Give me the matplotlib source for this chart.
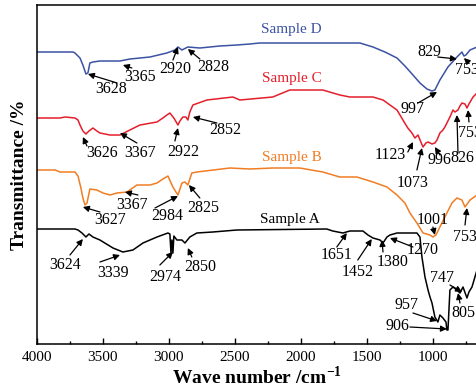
import matplotlib
matplotlib.use("Agg")
from matplotlib import pyplot as plt
from matplotlib.ticker import MultipleLocator

plt.rcParams['font.family'] = ['Liberation Serif', 'DejaVu Serif']
plt.rcParams['mathtext.fontset'] = 'custom'
plt.rcParams['mathtext.rm'] = 'Liberation Serif'
plt.rcParams['mathtext.bf'] = 'Liberation Serif:bold'

# spectra (wave number, transmittance in arbitrary offset units)
wave_d = [4000, 3725, 3710, 3672, 3650, 3627, 3612, 3597, 3574, 3521, 3369, 3294, 3142, 3014,
          2953, 2930, 2900, 2855, 2764, 2613, 2484, 2386, 2310, 2007, 1552, 1453, 1362, 1271,
          1211, 1150, 1097, 1044, 1006, 984, 946, 885, 817, 779, 764, 749, 718, 665]
trans_d = [292, 292, 291, 286, 279, 270, 271, 281, 282, 283, 283, 285, 287, 291,
           294, 297, 294, 297, 296, 298, 299, 300, 301, 301, 301, 297, 292, 286,
           278, 269, 261, 255, 253, 254, 264, 277, 287, 292, 288, 289, 294, 297]

wave_c = [4000, 3824, 3786, 3710, 3687, 3672, 3650, 3627, 3604, 3574, 3544, 3521, 3445, 3369,
          3294, 3218, 3089, 3044, 3014, 2991, 2961, 2930, 2915, 2893, 2870, 2855, 2840, 2817,
          2711, 2514, 2461, 2212, 2083, 1833, 1704, 1628, 1453, 1377, 1271, 1226, 1189, 1158,
          1135, 1112, 1090, 1074, 1052, 1036, 1006, 984, 968, 946, 923, 908, 893, 870, 847,
          832, 809, 794, 779, 756, 741, 726, 695, 665]
trans_c = [226, 226, 227, 226, 224, 219, 213, 210, 213, 216, 213, 211, 209, 209,
           214, 219, 222, 226, 229, 231, 226, 219, 223, 227, 227, 224, 232, 239,
           244, 247, 244, 247, 254, 254, 249, 247, 247, 244, 234, 224, 216, 211,
           206, 209, 202, 197, 201, 202, 200, 201, 204, 211, 214, 217, 221, 227, 234,
           232, 234, 238, 241, 240, 236, 240, 247, 251]

wave_b = [4000, 3861, 3824, 3710, 3687, 3665, 3650, 3634, 3619, 3597, 3544, 3498, 3445, 3392,
          3316, 3241, 3142, 3089, 3044, 3006, 2968, 2945, 2930, 2900, 2877, 2855, 2825, 2787,
          2537, 2386, 2212, 2007, 1833, 1704, 1575, 1453, 1347, 1271, 1211, 1173, 1120, 1074,
          1021, 999, 976, 946, 893, 855, 817, 779, 756, 718, 665]
trans_b = [174, 174, 172, 172, 168, 156, 146, 139, 141, 155, 154, 151, 149, 151,
           152, 159, 159, 161, 165, 168, 157, 152, 149, 161, 162, 159, 171, 172,
           176, 175, 176, 176, 172, 167, 167, 162, 157, 149, 141, 131, 121, 111,
           109, 107, 109, 117, 131, 141, 146, 144, 137, 144, 149]

wave_a = [4000, 3710, 3687, 3657, 3627, 3604, 3574, 3521, 3422, 3347, 3271, 3195, 3089, 3006,
          2991, 2983, 2976, 2968, 2961, 2938, 2900, 2877, 2840, 2787, 2666, 2484, 1803, 1757,
          1681, 1628, 1529, 1491, 1453, 1400, 1377, 1347, 1324, 1271, 1120, 1097, 1082, 1059,
          1036, 1021, 1006, 984, 961, 946, 923, 900, 893, 885, 870, 847, 817, 794, 771, 741,
          726, 703, 665]
trans_a = [115, 115, 114, 111, 107, 110, 107, 104, 96, 92, 94, 101, 107, 111,
           110, 91, 104, 91, 108, 104, 104, 101, 107, 111, 112, 114, 115, 113,
           111, 113, 113, 109, 106, 104, 101, 107, 109, 111, 111, 107, 87, 67,
           54, 47, 41, 27, 22, 29, 26, 22, 14, 14, 54, 57, 54, 51, 57, 46,
           52, 57, 74]

sample_names = ["Sample D", "Sample C", "Sample B", "Sample A"]
colors = ["#3c52a3", "#e41f2b", "#f07d24", "#000000"]

# peak labels: text, text position, arrow tail, arrow tip (data coords)
peaks = [
    ("3628", (3437, 255), (3391, 261), (3612, 270)),
    ("3365", (3218, 267), (3279, 276), (3347, 279)),
    ("2920", (2953, 275), (2968, 284), (2930, 297)),
    ("2828", (2666, 277), (2764, 285), (2855, 295)),
    ("829", (1023, 292), (962, 287), (817, 285)),
    ("753", (745, 274), (726, 281), (764, 286)),
    ("997", (1150, 235), (1112, 241), (968, 252)),
    ("3626", (3505, 191), (3619, 198), (3650, 207)),
    ("3367", (3218, 191), (3241, 201), (3369, 211)),
    ("2922", (2893, 192), (2953, 203), (2930, 216)),
    ("2852", (2575, 214), (2635, 221), (2817, 227)),
    ("1123", (1325, 189), (1189, 192), (1150, 202)),
    ("1073", (1150, 161), (1120, 174), (1082, 196)),
    ("996", (946, 184), (946, 189), (984, 197)),
    ("826", (779, 186), (809, 191), (817, 229)),
    ("753", (718, 211), (726, 222), (733, 234)),
    ("3627", (3445, 124), (3521, 132), (3650, 137)),
    ("3367", (3278, 139), (3233, 149), (3332, 152)),
    ("2984", (3014, 128), (3104, 136), (2930, 148)),
    ("2825", (2741, 136), (2764, 146), (2847, 159)),
    ("1001", (999, 124), (999, 117), (984, 109)),
    ("753", (756, 107), (756, 119), (741, 136)),
    ("3624", (3785, 79), (3748, 89), (3650, 105)),
    ("3339", (3422, 71), (3521, 82), (3369, 89)),
    ("2974", (3029, 67), (3067, 79), (2968, 92)),
    ("2850", (2764, 77), (2825, 87), (2855, 96)),
    ("1651", (1727, 89), (1727, 97), (1651, 111)),
    ("1452", (1568, 72), (1568, 84), (1462, 105)),
    ("1380", (1302, 82), (1377, 92), (1385, 104)),
    ("1270", (1074, 94), (1150, 97), (1324, 106)),
    ("957", (1196, 39), (1150, 31), (968, 23)),
    ("906", (1271, 18), (1173, 17), (893, 15)),
    ("747", (931, 66), (870, 59), (779, 52)),
    ("805", (771, 31), (794, 41), (809, 51)),
]
name_pos = [(2068, 315), (2068, 266), (2068, 187), (2083, 125)]

fig = plt.figure(figsize=(4.77, 3.91), dpi=100)
ax = fig.add_axes([0.0769, 0.1202, 0.9231, 0.867])

for w, t, c in zip([wave_d, wave_c, wave_b, wave_a], [trans_d, trans_c, trans_b, trans_a], colors):
    ax.plot(w, t, color=c, lw=1.1)

for name, c, pos in zip(sample_names, colors, name_pos):
    ax.text(pos[0], pos[1], name, color=c, fontsize=11, ha='center', va='center')

for lab, tpos, tail, tip in peaks:
    ax.text(tpos[0], tpos[1], lab, fontsize=11.5, ha='center', va='center')
    ax.annotate("", xy=tip, xytext=tail,
                arrowprops=dict(arrowstyle='-|>', color='black', lw=0.9,
                                mutation_scale=9, shrinkA=0, shrinkB=0))

ax.set_xlim(4000, 665)
ax.set_ylim(0, 339)
ax.xaxis.set_major_locator(MultipleLocator(500))
ax.xaxis.set_minor_locator(MultipleLocator(250))
ax.tick_params(axis='x', which='major', direction='in', length=4, width=1, labelsize=11, pad=5)
ax.tick_params(axis='x', which='minor', direction='in', length=2.5, width=1)
ax.set_yticks([])
ax.spines['right'].set_visible(False)
for s in ['left', 'top', 'bottom']:
    ax.spines[s].set_linewidth(1.1)

ax.set_xlabel(r'Wave number /cm$^{\mathbf{-1}}$', fontsize=14, fontweight='bold', labelpad=1)
ax.set_ylabel('Transmittance /%', fontsize=14, fontweight='bold', labelpad=6)

fig.savefig("out.png", dpi=100)
